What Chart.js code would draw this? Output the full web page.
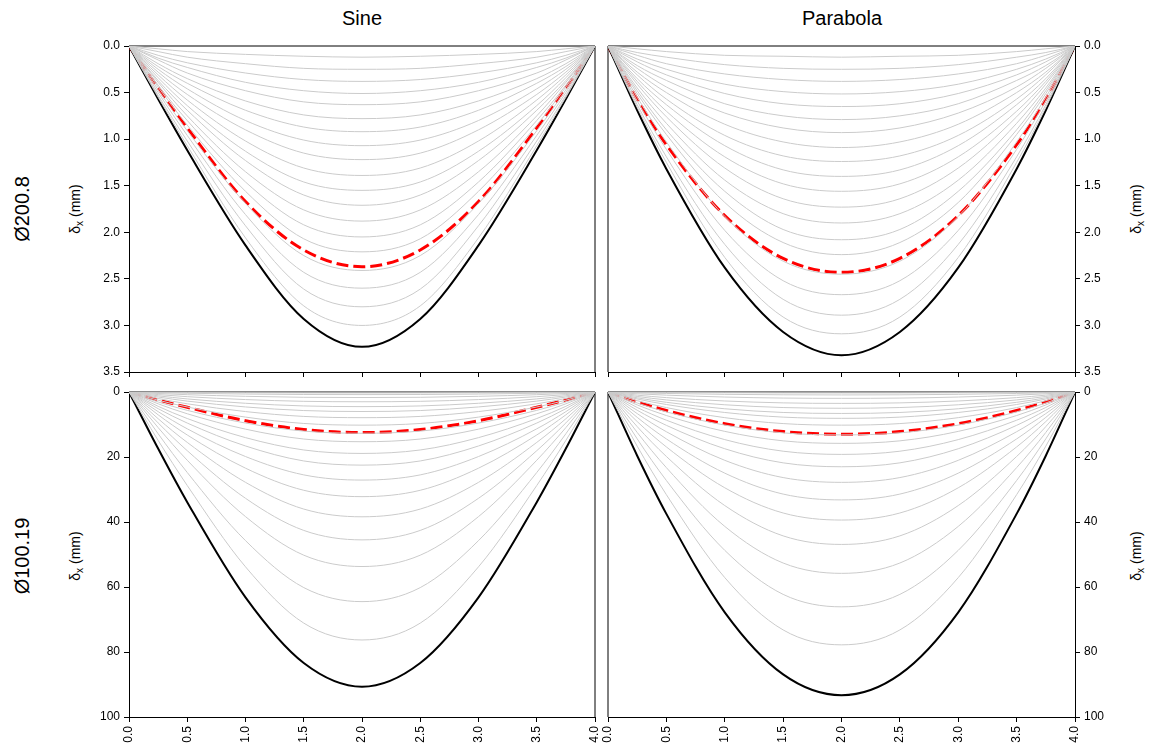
<!DOCTYPE html>
<html>
<head>
<meta charset="utf-8">
<script src="https://cdn.jsdelivr.net/npm/chart.js@4"></script>
<style>
  body { margin: 0; background: #fff; font-family: "Liberation Sans", Arial, sans-serif; }
  #wrap { position: relative; width: 1159px; height: 750px; overflow: hidden; }
  canvas { position: absolute; }
  .lbl { position: absolute; white-space: nowrap; color: #000; }
  .rot { transform: translate(-50%, -50%) rotate(-90deg); }
  .ctr { transform: translate(-50%, -50%); }
</style>
</head>
<body>
<div id="wrap">
  <div class="lbl ctr" style="left:362px;top:18px;font-size:20px;">Sine</div>
  <div class="lbl ctr" style="left:842px;top:18px;font-size:20px;">Parabola</div>
  <div class="lbl rot" style="left:22px;top:209px;font-size:20px;">Ø200.8</div>
  <div class="lbl rot" style="left:22px;top:556px;font-size:20px;">Ø100.19</div>
  <div class="lbl rot" style="left:76px;top:209px;font-size:14px;">δ<sub style="font-size:10px">x</sub> (mm)</div>
  <div class="lbl rot" style="left:76px;top:556px;font-size:14px;">δ<sub style="font-size:10px">x</sub> (mm)</div>
  <div class="lbl rot" style="left:1137px;top:209px;font-size:14px;">δ<sub style="font-size:10px">x</sub> (mm)</div>
  <div class="lbl rot" style="left:1137px;top:556px;font-size:14px;">δ<sub style="font-size:10px">x</sub> (mm)</div>
  <canvas id="tl" width="545" height="340" style="left:60px;top:40px;"></canvas>
  <canvas id="tr" width="537" height="340" style="left:598px;top:40px;"></canvas>
  <canvas id="bl" width="545" height="361" style="left:60px;top:386px;"></canvas>
  <canvas id="br" width="537" height="361" style="left:598px;top:386px;"></canvas>
</div>
<script>
// positions along the span (x)
const xs = [0, 0.25, 0.5, 1, 1.5, 2, 2.5, 3, 3.5, 3.75, 4];
const xTickValues = [0, 0.5, 1, 1.5, 2, 2.5, 3, 3.5, 4];
const yTicksTop = [0, 0.5, 1, 1.5, 2, 2.5, 3, 3.5];
const yTicksBottom = [0, 20, 40, 60, 80, 100];

// Ø200.8 - Sine
const sineTopGray = [
  [0,0.03,0.06,0.09,0.11,0.12,0.11,0.09,0.06,0.03,0],
  [0,0.06,0.12,0.19,0.24,0.25,0.24,0.19,0.12,0.06,0],
  [0,0.10,0.18,0.29,0.36,0.38,0.36,0.29,0.18,0.10,0],
  [0,0.13,0.23,0.39,0.48,0.51,0.48,0.39,0.23,0.13,0],
  [0,0.15,0.29,0.48,0.60,0.63,0.60,0.48,0.29,0.15,0],
  [0,0.19,0.35,0.59,0.74,0.78,0.74,0.59,0.35,0.19,0],
  [0,0.22,0.40,0.69,0.87,0.92,0.87,0.69,0.40,0.22,0],
  [0,0.25,0.46,0.80,1.01,1.07,1.01,0.80,0.46,0.25,0],
  [0,0.28,0.52,0.90,1.15,1.22,1.15,0.90,0.52,0.28,0],
  [0,0.31,0.58,1.02,1.31,1.39,1.31,1.02,0.58,0.31,0],
  [0,0.34,0.64,1.13,1.46,1.55,1.46,1.13,0.64,0.34,0],
  [0,0.37,0.69,1.23,1.60,1.71,1.60,1.23,0.69,0.37,0],
  [0,0.39,0.75,1.35,1.76,1.88,1.76,1.35,0.75,0.39,0],
  [0,0.42,0.80,1.46,1.92,2.05,1.92,1.46,0.80,0.42,0],
  [0,0.44,0.85,1.56,2.07,2.21,2.07,1.56,0.85,0.44,0],
  [0,0.47,0.91,1.69,2.25,2.41,2.25,1.69,0.91,0.47,0],
  [0,0.50,0.96,1.81,2.43,2.60,2.43,1.81,0.96,0.50,0],
  [0,0.53,1.02,1.93,2.61,2.80,2.61,1.93,1.02,0.53,0],
  [0,0.55,1.07,2.06,2.79,3.00,2.79,2.06,1.07,0.55,0]
];
const sineTopBlack = [0,0.57,1.12,2.14,2.93,3.23,2.93,2.14,1.12,0.57,0];
const sineTopRed = [0,0.45,0.88,1.67,2.19,2.37,2.19,1.67,0.88,0.45,0];

// Ø200.8 - Parabola
const paraTopGray = [
  [0,0.03,0.06,0.10,0.11,0.12,0.11,0.10,0.06,0.03,0],
  [0,0.07,0.12,0.20,0.24,0.25,0.24,0.20,0.12,0.07,0],
  [0,0.10,0.19,0.30,0.36,0.38,0.36,0.30,0.19,0.10,0],
  [0,0.14,0.25,0.41,0.49,0.515,0.49,0.41,0.25,0.14,0],
  [0,0.17,0.31,0.51,0.62,0.65,0.62,0.51,0.31,0.17,0],
  [0,0.21,0.37,0.62,0.75,0.79,0.75,0.62,0.37,0.21,0],
  [0,0.24,0.44,0.72,0.88,0.93,0.88,0.72,0.44,0.24,0],
  [0,0.28,0.50,0.84,1.03,1.09,1.03,0.84,0.50,0.28,0],
  [0,0.31,0.57,0.96,1.18,1.24,1.18,0.96,0.57,0.31,0],
  [0,0.35,0.63,1.07,1.33,1.40,1.33,1.07,0.63,0.35,0],
  [0,0.38,0.70,1.19,1.48,1.56,1.48,1.19,0.70,0.38,0],
  [0,0.41,0.76,1.31,1.64,1.73,1.64,1.31,0.76,0.41,0],
  [0,0.45,0.83,1.44,1.80,1.90,1.80,1.44,0.83,0.45,0],
  [0,0.48,0.90,1.56,1.97,2.08,1.97,1.56,0.90,0.48,0],
  [0,0.51,0.95,1.68,2.11,2.24,2.11,1.68,0.95,0.51,0],
  [0,0.55,1.03,1.83,2.31,2.45,2.31,1.83,1.03,0.55,0],
  [0,0.59,1.11,1.98,2.52,2.67,2.52,1.98,1.11,0.59,0],
  [0,0.63,1.19,2.13,2.72,2.89,2.72,2.13,1.19,0.63,0],
  [0,0.66,1.25,2.27,2.91,3.09,2.91,2.27,1.25,0.66,0]
];
const paraTopBlack = [0,0.69,1.32,2.38,3.07,3.32,3.07,2.38,1.32,0.69,0];
const paraTopRed = [0,0.57,1.06,1.82,2.28,2.43,2.28,1.82,1.06,0.57,0];

// Ø100.19 - Sine
const sineBotGray = [
  [0,0.08,0.15,0.24,0.29,0.3,0.29,0.24,0.15,0.08,0],
  [0,0.22,0.39,0.63,0.77,0.8,0.77,0.63,0.39,0.22,0],
  [0,0.46,0.83,1.33,1.63,1.7,1.63,1.33,0.83,0.46,0],
  [0,0.80,1.44,2.33,2.87,3.0,2.87,2.33,1.44,0.80,0],
  [0,1.17,2.13,3.47,4.29,4.5,4.29,3.47,2.13,1.17,0],
  [0,1.54,2.80,4.60,5.71,6.0,5.71,4.60,2.80,1.54,0],
  [0,1.99,3.63,6.02,7.51,7.9,7.51,6.02,3.63,1.99,0],
  [0,2.52,4.61,7.72,9.68,10.2,9.68,7.72,4.61,2.52,0],
  [0,3.07,5.65,9.55,12.03,12.7,12.03,9.55,5.65,3.07,0],
  [0,3.63,6.70,11.43,14.47,15.3,14.47,11.43,6.70,3.63,0],
  [0,4.40,8.16,14.04,17.84,18.9,17.84,14.04,8.16,4.40,0],
  [0,5.13,9.56,16.61,21.22,22.5,21.22,16.61,9.56,5.13,0],
  [0,6.04,11.33,19.86,25.50,27.1,25.50,19.86,11.33,6.04,0],
  [0,7.02,13.23,23.44,30.24,32.2,30.24,23.44,13.23,7.02,0],
  [0,8.22,15.51,27.80,36.02,38.4,36.02,27.80,15.51,8.22,0],
  [0,9.51,18.06,32.71,42.59,45.5,42.59,32.71,18.06,9.51,0],
  [0,10.95,21.00,38.34,50.21,53.7,50.21,38.34,21.00,10.95,0],
  [0,12.84,24.77,45.73,60.18,64.5,60.18,45.73,24.77,12.84,0],
  [0,14.88,28.77,53.79,71.11,76.3,71.11,53.79,28.77,14.88,0]
];
const sineBotBlack = [0,17.4,33.9,63.2,83.4,90.7,83.4,63.2,33.9,17.4,0];
const sineBotRed = [0,2.44,4.70,8.84,11.55,12.5,11.55,8.84,4.70,2.44,0];

// Ø100.19 - Parabola
const paraBotGray = [
  [0,0.09,0.15,0.24,0.29,0.3,0.29,0.24,0.15,0.09,0],
  [0,0.26,0.45,0.72,0.86,0.9,0.86,0.72,0.45,0.26,0],
  [0,0.55,0.97,1.55,1.87,1.95,1.87,1.55,0.97,0.55,0],
  [0,0.97,1.73,2.76,3.35,3.5,3.35,2.76,1.73,0.97,0],
  [0,1.37,2.44,3.93,4.78,5.0,4.78,3.93,2.44,1.37,0],
  [0,1.78,3.17,5.16,6.30,6.6,6.30,5.16,3.17,1.78,0],
  [0,2.15,3.85,6.30,7.73,8.1,7.73,6.30,3.85,2.15,0],
  [0,2.66,4.79,7.89,9.72,10.2,9.72,7.89,4.79,2.66,0],
  [0,3.38,6.12,10.18,12.57,13.2,12.57,10.18,6.12,3.38,0],
  [0,3.98,7.24,12.12,15.03,15.8,15.03,12.12,7.24,3.98,0],
  [0,4.76,8.68,14.65,18.22,19.2,18.22,14.65,8.68,4.76,0],
  [0,5.61,10.26,17.46,21.80,23.0,21.80,17.46,10.26,5.61,0],
  [0,6.64,12.23,21.02,26.33,27.8,26.33,21.02,12.23,6.64,0],
  [0,7.80,14.44,24.97,31.41,33.2,31.41,24.97,14.44,7.80,0],
  [0,9.10,16.90,29.47,37.23,39.4,37.23,29.47,16.90,9.10,0],
  [0,10.65,19.84,34.94,44.27,46.9,44.27,34.94,19.84,10.65,0],
  [0,12.44,23.27,41.35,52.62,55.8,52.62,41.35,23.27,12.44,0],
  [0,14.41,27.23,48.72,62.27,66.1,62.27,48.72,27.23,14.41,0],
  [0,16.65,31.59,57.11,73.21,77.8,73.21,57.11,31.59,16.65,0]
];
const paraBotBlack = [0,19.6,37.5,67.8,86.9,93.3,86.9,67.8,37.5,19.6,0];
const paraBotRed = [0,3.04,5.69,9.75,12.19,13.0,12.19,9.75,5.69,3.04,0];

const tickFont = { family: '"Liberation Sans", Arial, sans-serif', size: 12 };

// draws the remaining sides of the plot frame
const framePlugin = {
  id: 'frame',
  beforeDatasetsDraw(chart, args, opts) {
    const { ctx, chartArea: a } = chart;
    ctx.save();
    ctx.strokeStyle = opts.topColor;
    ctx.lineWidth = opts.topWidth;
    ctx.beginPath();
    ctx.moveTo(a.left, a.top);
    ctx.lineTo(a.right, a.top);
    ctx.stroke();
    ctx.strokeStyle = '#000';
    ctx.lineWidth = 1;
    ctx.beginPath();
    const sx = opts.side === 'right' ? a.right : a.left;
    ctx.moveTo(sx, a.top);
    ctx.lineTo(sx, a.bottom);
    ctx.stroke();
    ctx.restore();
  }
};

function curveSets(gray, black, red) {
  const pts = v => v.map((y, i) => ({ x: xs[i], y: y }));
  const sets = gray.map(v => ({ data: pts(v), borderColor: '#cbcbcb', borderWidth: 1 }));
  sets.push({ data: pts(black), borderColor: '#000', borderWidth: 2 });
  sets.push({ data: pts(red), borderColor: '#ff0000', borderWidth: 3, borderDash: [12, 5] });
  return sets;
}

function makePanel(id, sets, c) {
  new Chart(document.getElementById(id), {
    type: 'line',
    data: { datasets: sets },
    options: {
      responsive: false,
      animation: false,
      layout: { padding: c.padding },
      elements: { point: { radius: 0 }, line: { cubicInterpolationMode: 'monotone' } },
      plugins: {
        legend: { display: false },
        tooltip: { enabled: false },
        frame: { topColor: c.topColor, topWidth: c.topWidth, side: c.yPos === 'left' ? 'right' : 'left' }
      },
      scales: {
        x: {
          type: 'linear', min: 0, max: 4, position: 'bottom',
          afterBuildTicks: s => { s.ticks = xTickValues.map(v => ({ value: v })); },
          afterFit: s => { s.height = c.xHeight; s.paddingLeft = 0; s.paddingRight = 0; },
          ticks: {
            display: c.xLabels, minRotation: 90, maxRotation: 90, padding: 4,
            color: '#000', font: tickFont, callback: v => Number(v).toFixed(1)
          },
          grid: { drawOnChartArea: false, tickLength: 5, color: '#000' },
          border: { color: '#000' }
        },
        y: {
          type: 'linear', reverse: true, min: 0, max: c.yMax, position: c.yPos,
          afterBuildTicks: s => { s.ticks = c.yTicks.map(v => ({ value: v })); },
          afterFit: s => { s.width = c.yWidth; s.paddingTop = 0; s.paddingBottom = 0; },
          ticks: { padding: 4, color: '#000', font: tickFont, callback: c.yFmt },
          grid: { drawOnChartArea: false, tickLength: 5, color: '#000' },
          border: { color: '#000' }
        }
      }
    },
    plugins: [framePlugin]
  });
}

const topFmt = v => Number(v).toFixed(1);
const botFmt = v => String(v);

makePanel('tl', curveSets(sineTopGray, sineTopBlack, sineTopRed), {
  padding: { top: 6, right: 10, left: 0, bottom: 0 }, yPos: 'left', yWidth: 69,
  yMax: 3.5, yTicks: yTicksTop, yFmt: topFmt, xLabels: false, xHeight: 8,
  topColor: '#000', topWidth: 1
});
makePanel('tr', curveSets(paraTopGray, paraTopBlack, paraTopRed), {
  padding: { top: 6, right: 0, left: 10, bottom: 0 }, yPos: 'right', yWidth: 60,
  yMax: 3.5, yTicks: yTicksTop, yFmt: topFmt, xLabels: false, xHeight: 8,
  topColor: '#000', topWidth: 1
});
makePanel('bl', curveSets(sineBotGray, sineBotBlack, sineBotRed), {
  padding: { top: 6, right: 10, left: 0, bottom: 0 }, yPos: 'left', yWidth: 69,
  yMax: 100, yTicks: yTicksBottom, yFmt: botFmt, xLabels: true, xHeight: 30,
  topColor: '#8c8c8c', topWidth: 2
});
makePanel('br', curveSets(paraBotGray, paraBotBlack, paraBotRed), {
  padding: { top: 6, right: 0, left: 10, bottom: 0 }, yPos: 'right', yWidth: 60,
  yMax: 100, yTicks: yTicksBottom, yFmt: botFmt, xLabels: true, xHeight: 30,
  topColor: '#8c8c8c', topWidth: 2
});
</script>
</body>
</html>
